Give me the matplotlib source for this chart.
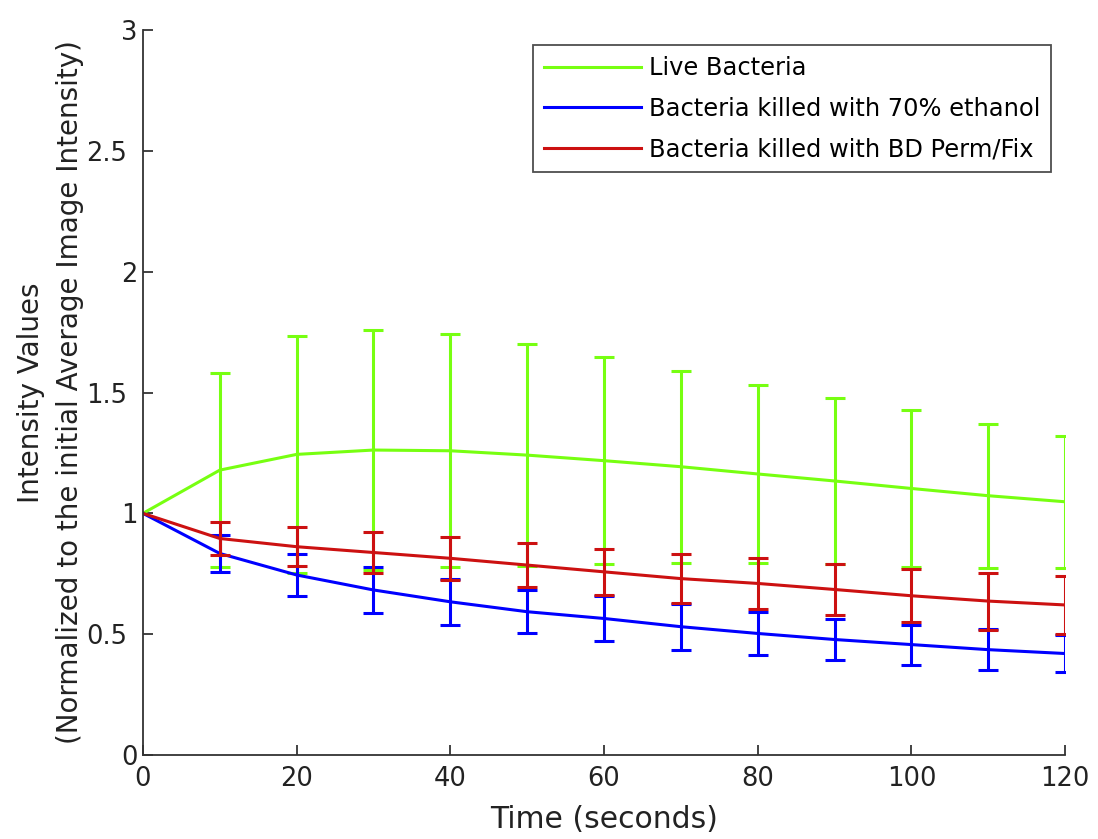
import matplotlib
matplotlib.use("Agg")
import matplotlib.pyplot as plt
from matplotlib.transforms import ScaledTranslation

time_s = [0, 10, 20, 30, 40, 50, 60, 70, 80, 90, 100, 110, 120]

live_mean = [1.0, 1.179, 1.244, 1.262, 1.259, 1.241, 1.218, 1.193, 1.163, 1.134, 1.103, 1.073, 1.048]
live_err = [0.0, 0.40, 0.49, 0.496, 0.483, 0.46, 0.427, 0.397, 0.367, 0.343, 0.323, 0.298, 0.273]

ethanol_mean = [1.0, 0.834, 0.745, 0.683, 0.634, 0.593, 0.565, 0.531, 0.503, 0.478, 0.457, 0.436, 0.420]
ethanol_err = [0.0, 0.076, 0.085, 0.094, 0.095, 0.09, 0.095, 0.095, 0.09, 0.085, 0.083, 0.085, 0.075]

permfix_mean = [1.0, 0.896, 0.862, 0.838, 0.814, 0.786, 0.758, 0.730, 0.710, 0.685, 0.659, 0.637, 0.621]
permfix_err = [0.0, 0.07, 0.08, 0.085, 0.09, 0.092, 0.094, 0.10, 0.105, 0.105, 0.11, 0.118, 0.12]

labels = ["Live Bacteria", "Bacteria killed with 70% ethanol", "Bacteria killed with BD Perm/Fix"]
colors = ["#77ff11", "#0000ff", "#cc1111"]
xticks = [0, 20, 40, 60, 80, 100, 120]
yticks = [0, 0.5, 1, 1.5, 2, 2.5, 3]
ytick_labels = ["0", "0.5", "1", "1.5", "2", "2.5", "3"]

plt.rcParams['font.family'] = ['DejaVu Sans']
fig = plt.figure(figsize=(10.98, 8.39), dpi=100)
ax = fig.add_axes([0.1302, 0.1001, 0.8398, 0.8641])

series = [(live_mean, live_err), (ethanol_mean, ethanol_err), (permfix_mean, permfix_err)]
for (m, e), c, lab in zip(series, colors, labels):
    ax.plot(time_s, m, color=c, lw=2.2, label=lab)
    ax.errorbar(time_s[1:], m[1:], yerr=e[1:], fmt='none', ecolor=c,
                elinewidth=2.2, capsize=7.5, capthick=2.2)

ax.set_xlim(0, 120)
ax.set_ylim(0, 3)
ax.set_xticks(xticks)
ax.set_yticks(yticks)
ax.set_yticklabels(ytick_labels)
ax.tick_params(direction='in', length=7, width=1.2, labelsize=18.5, colors='#222222')
ax.tick_params(axis='x', pad=8)
ax.tick_params(axis='y', pad=4)
for s in ['top', 'right']:
    ax.spines[s].set_visible(False)
for s in ['left', 'bottom']:
    ax.spines[s].set_linewidth(1.3)
    ax.spines[s].set_color('#333333')

# decimal labels sit further from the axis, as in the original
for lab in ax.get_yticklabels():
    if '.' in lab.get_text():
        lab.set_transform(lab.get_transform() + ScaledTranslation(-10 / 100, 0, fig.dpi_scale_trans))

ax.set_xlabel("Time (seconds)", fontsize=21.5, color='#222222', labelpad=9)
ax.set_ylabel("Intensity Values\n(Normalized to the initial Average Image Intensity)",
              fontsize=20, color='#222222', labelpad=2, linespacing=1.5)

leg = ax.legend(loc='upper right', bbox_to_anchor=(0.985, 0.979), fontsize=17.4,
                frameon=True, fancybox=False, edgecolor='#222222',
                handlelength=4.0, handletextpad=0.33, borderpad=0.45,
                labelspacing=0.68, borderaxespad=0)
leg.get_frame().set_linewidth(1.3)

fig.savefig("out.png", dpi=100, facecolor='white')
